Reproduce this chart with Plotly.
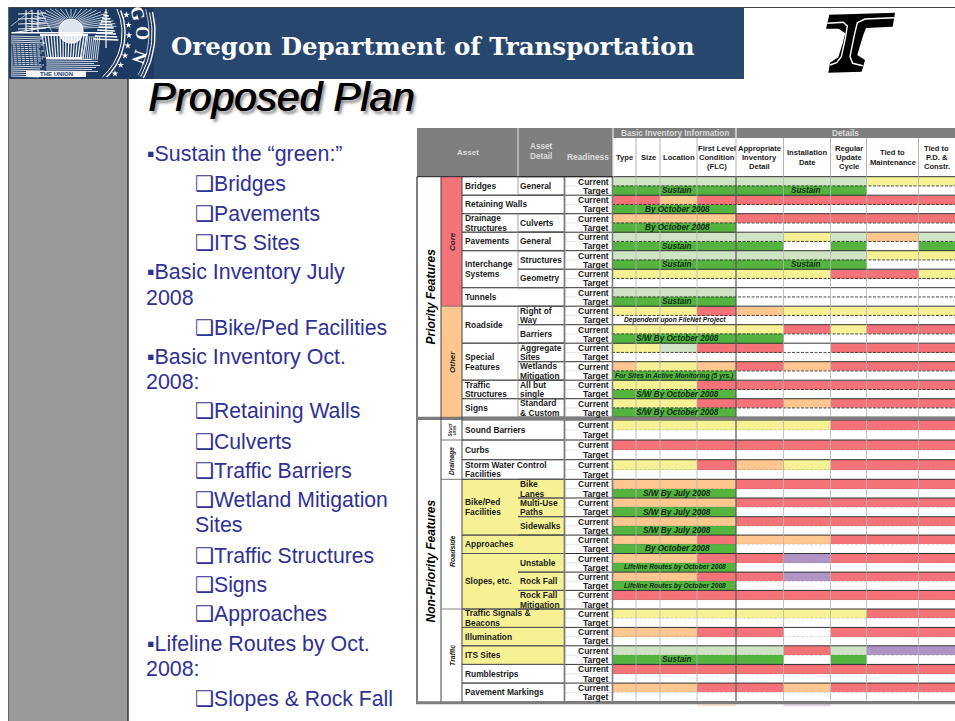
import math
import plotly.graph_objects as go

# ---------- DATA ----------
COLUMNS = ["Type", "Size", "Location", "First Level|Condition|(FLC)", "Appropriate|Inventory|Detail",
           "Installation|Date", "Regular|Update|Cycle", "Tied to|Maintenance", "Tied to|P.D. &|Constr."]
CODES = {"W": 0, "G": 1, "Y": 2, "O": 3, "R": 4, "D": 5, "P": 6}
CODE_COLORS = ["#ffffff", "#cfe4c4", "#f6f194", "#fdc78f", "#f47378", "#55b340", "#b094c6"]

PRIORITY_STATUS = [
    ("GGGGGGGYY", "DDDDDDDWW"), ("RRORRRRRR", "DDDDWWWWW"),
    ("OOOORRRRR", "DDDDWWWWW"), ("GGGGGYGOG", "DDDDDWDWD"), ("GGGGGGGYY", "DDDDDDDWW"),
    ("YYYYYYRRY", "WWWWWWWWW"), ("GGGGWWWWW", "DDDDWWWWW"), ("YYYROYYYY", "WWWWWWWWW"),
    ("YYYYYRYRR", "DDDDDWWWW"), ("YYGRRWRRR", "WWWWWWWWW"), ("OYYORORRR", "DDDDWWWWW"),
    ("YYYRRRRRR", "DDDDWWWWW"), ("YYYRRORRR", "DDDDWWWWW"),
]
NON_PRIORITY_STATUS = [
    ("YYYYYYRRR", "WWWWWWWWW"), ("RRRRRRRRR", "WWWWWWWWW"), ("YYYROYRRR", "WWWWWWWWW"),
    ("OOOORRRRR", "DDDDWWWWW"), ("OOOORRRRR", "DDDDWWWWW"), ("OOOORRRRR", "DDDDWWWWW"),
    ("OOOROORRR", "DDDDWWWWW"), ("OOORRPRRR", "DDDDWWWWW"), ("OOORRPRRR", "DDDDWWWWW"),
    ("RRRRRRRRR", "WWWWWWWWW"), ("YYYYYYYRR", "WWWWWWWWW"), ("OOORRWRRR", "WWWWWWWWW"),
    ("GGGGGRGPP", "DDDDDWDWW"), ("RRRRRRRRR", "WWWWWWWWW"), ("OOORRORRR", "WWWWWWWWW"),
]
# (row index, first column, last column, text)
PRIORITY_NOTES = [(0, 0, 3, "Sustain"), (0, 4, 6, "Sustain"), (1, 0, 3, "By October 2008"),
                  (2, 0, 3, "By October 2008"), (3, 0, 3, "Sustain"), (4, 0, 3, "Sustain"),
                  (4, 4, 6, "Sustain"), (6, 0, 3, "Sustain"), (7, 0, 3, "Dependent upon FileNet Project"),
                  (8, 0, 3, "S/W By October 2008"), (10, 0, 3, "For Sites in Active Monitoring (5 yrs.)"),
                  (11, 0, 3, "S/W By October 2008"), (12, 0, 3, "S/W By October 2008")]
NON_PRIORITY_NOTES = [(3, 0, 3, "S/W By July 2008"), (4, 0, 3, "S/W By July 2008"), (5, 0, 3, "S/W By July 2008"),
                      (6, 0, 3, "By October 2008"), (7, 0, 3, "Lifeline Routes by October 2008"),
                      (8, 0, 3, "Lifeline Routes by October 2008"), (12, 0, 3, "Sustain")]
# (first row, last row, text)
PRIORITY_ASSETS = [(0, 0, "Bridges"), (1, 1, "Retaining Walls"), (2, 2, "Drainage|Structures"), (3, 3, "Pavements"),
                   (4, 5, "Interchange|Systems"), (6, 6, "Tunnels"), (7, 8, "Roadside"), (9, 10, "Special|Features"),
                   (11, 11, "Traffic|Structures"), (12, 12, "Signs")]
PRIORITY_DETAILS = [(0, "General"), (2, "Culverts"), (3, "General"), (4, "Structures"), (5, "Geometry"),
                    (7, "Right of|Way"), (8, "Barriers"), (9, "Aggregate|Sites"), (10, "Wetlands|Mitigation"),
                    (11, "All but|single"), (12, "Standard|& Custom")]
NON_PRIORITY_ASSETS = [(0, 0, "Sound Barriers"), (1, 1, "Curbs"), (2, 2, "Storm Water Control|Facilities"),
                       (3, 5, "Bike/Ped|Facilities"), (6, 6, "Approaches"), (7, 9, "Slopes, etc."),
                       (10, 10, "Traffic Signals &|Beacons"), (11, 11, "Illumination"), (12, 12, "ITS Sites"),
                       (13, 13, "Rumblestrips"), (14, 14, "Pavement Markings")]
NON_PRIORITY_DETAILS = [(3, "Bike|Lanes"), (4, "Multi-Use|Paths"), (5, "Sidewalks"), (7, "Unstable"),
                        (8, "Rock Fall"), (9, "Rock Fall|Mitigation")]
BULLETS = [("b", "Sustain the “green:”"), ("c", "Bridges"), ("c", "Pavements"), ("c", "ITS Sites"),
           ("b", "Basic Inventory July"), ("t", "2008"), ("c", "Bike/Ped Facilities"),
           ("b", "Basic Inventory Oct."), ("t", "2008:"), ("c", "Retaining Walls"), ("c", "Culverts"),
           ("c", "Traffic Barriers"), ("c", "Wetland Mitigation"), ("s", "Sites"), ("c", "Traffic Structures"),
           ("c", "Signs"), ("c", "Approaches"), ("b", "Lifeline Routes by Oct."), ("t", "2008:"),
           ("c", "Slopes & Rock Fall")]

# ---------- LAYOUT ----------
W, H = 955, 721
SANS = "Liberation Sans, Arial, sans-serif"
COL_WIDTHS = [23, 24, 37, 39, 47.5, 47, 36, 52, 36.5]
COL_X0 = 613
XE = [COL_X0]
for w in COL_WIDTHS:
    XE.append(XE[-1] + w)
P_TOP, P_H = 176.7, 18.5
NP_HEIGHTS = [20, 19.7, 19.6, 18.7, 18.7, 18.4, 18.4, 18.6, 18.3, 18.6, 18.4, 18.4, 18.6, 18.7, 18.7]
NP_TOP = 420.0
PE = [P_TOP + i * P_H for i in range(len(PRIORITY_STATUS) + 1)]
NE = [NP_TOP]
for h in NP_HEIGHTS:
    NE.append(NE[-1] + h)
BOT = NE[-1]
GRAY = "#7f7f7f"

def halves(edges):
    out = []
    for a, b in zip(edges, edges[1:]):
        out += [a, (a + b) / 2]
    return out + [edges[-1]]

def matrix(status):
    z = []
    for cur, tgt in status:
        z.append([CODES[c] for c in cur])
        z.append([CODES[c] for c in tgt])
    return z

shapes, ann = [], []
def rect(x0, y0, x1, y1, color, layer="below"):
    shapes.append(dict(type="rect", x0=x0, y0=y0, x1=x1, y1=y1, fillcolor=color, line_width=0, layer=layer,
                       xref="x", yref="y"))
def line(x0, y0, x1, y1, color="#333333", width=1, dash="solid", layer="above"):
    shapes.append(dict(type="line", x0=x0, y0=y0, x1=x1, y1=y1, line=dict(color=color, width=width, dash=dash),
                       layer=layer, xref="x", yref="y"))
def text(x, y, s, size=8.5, color="#111111", anchor="left", bold=False, italic=False, family=SANS, angle=0, shadow=None):
    f = dict(family=family, size=size, color=color, weight="bold" if bold else "normal",
             style="italic" if italic else "normal")
    if shadow:
        f["shadow"] = shadow
    ann.append(dict(x=x, y=y, xref="x", yref="y", text=s, showarrow=False, xanchor=anchor, yanchor="middle",
                    font=f, textangle=angle, borderpad=0, borderwidth=0))
def lines(x, yc, s, step=9.7, **kw):
    parts = s.split("|")
    for i, p in enumerate(parts):
        text(x, yc + (i - (len(parts) - 1) / 2) * step, p, **kw)

fig = go.Figure()
n = len(CODE_COLORS)
colorscale = []
for i, c in enumerate(CODE_COLORS):
    colorscale += [[i / n, c], [(i + 1) / n, c]]
for st, edges in ((PRIORITY_STATUS, PE), (NON_PRIORITY_STATUS, NE)):
    fig.add_trace(go.Heatmap(z=matrix(st), x=XE, y=halves(edges), zmin=-0.5, zmax=n - 0.5,
                             colorscale=colorscale, showscale=False, hoverinfo="skip", zsmooth=False))

# ---------- slide frame ----------
rect(9, 8, 744, 79, "#27476f")
rect(9, 8, 154, 79, "#1d3a63")
rect(9, 79, 128, H, "#999999")
line(8, 7.5, W, 7.5, "#444444", 1.2)
line(8.5, 7, 8.5, H, "#666666", 1)
line(128, 79, 128, H, "#3f3f3f", 1.6)
text(171, 46, "Oregon Department of Transportation", size=24.5, color="#ffffff", bold=True,
     family="DejaVu Serif, Liberation Serif, serif")

# seal
def arc(r, a0, a1, color="#ffffff", width=1):
    xs, ys = [], []
    for k in range(61):
        a = math.radians(a0 + (a1 - a0) * k / 60)
        x, y = 63 + r * math.cos(a), 33 + r * math.sin(a)
        if 8.5 <= y <= 78.5 and x >= 9.5:
            xs.append(x); ys.append(y)
    fig.add_trace(go.Scatter(x=xs, y=ys, mode="lines", line=dict(color=color, width=width), hoverinfo="skip"))
for r, wd in ((92, 1.4), (89, 1), (86, .7), (62, 1.4), (59, 1)):
    arc(r, -80, 80, width=wd)
for k in range(-60, 61, 5):
    a = math.radians(k * 1.35 - 90)
    line(71 + 12 * math.cos(a), 30 + 12 * math.sin(a), 71 + 46 * math.cos(a),
         max(9, 30 + 24 * math.sin(a)), "#e6ecf4", .8)
shapes.append(dict(type="circle", x0=59, y0=19, x1=83, y1=43, line=dict(color="#ffffff", width=1.2),
                   fillcolor="#dde5ee", layer="below", xref="x", yref="y"))
rect(12, 32, 113, 33.5, "#ffffff")
fig.add_trace(go.Scatter(x=[63 + 66 * math.cos(math.radians(a)) for a in range(-34, 40, 9)],
                         y=[33 + 66 * math.sin(math.radians(a)) for a in range(-34, 40, 9)],
                         mode="markers", marker=dict(symbol="star", size=5, color="#ffffff"), hoverinfo="skip"))
for x in (26, 32, 38):
    line(x, 10, x, 33, "#ffffff", 1.1)
for y in (14, 19, 24, 29):
    line(18, y, 46, y - 1, "#ffffff", .9)
line(11, 33, 50, 27, "#ffffff", 1.2)
line(11, 26, 32, 10, "#dfe7f0", .7)
line(40, 10, 52, 32, "#dfe7f0", .7)
for y in range(12, 42, 3):
    line(106 - (y - 8) * .4, y, 106 + (y - 8) * .4, y + 1, "#ffffff", 1.3)
line(106, 9, 106, 48, "#ffffff", 1.2)
for x in range(42, 88, 3):
    line(x, 35, x + (64 - x) * .18, 58, "#f2f5f9", 1.2)
line(40, 35, 88, 35, "#ffffff", 2)
line(46, 58, 82, 58, "#ffffff", 2)
for y in range(36, 78, 2):
    line(11, y, 45 - (y % 7), y + 1, "#eef2f7", .9)
for y in range(59, 72, 2):
    line(46, y, 100 - (y % 5) * 2, y + .5, "#e6ecf4", .9)
for x in range(12, 46, 4):
    line(x, 44, x + 2, 66, "#1d3a63", .8)
for x in range(84, 102, 2):
    line(x, 36, x - 3, 60, "#e9eef5", .9)
rect(26, 71, 86, 77, "#f4f6f9")
text(56, 74, "THE UNION", size=6, color="#27476f", anchor="center", bold=True)
for letter, lx, ly, rot in (("G", 137.5, 13, 75), ("O", 142, 33, 90), ("N", 139.5, 57, 108)):
    text(lx, ly, letter, size=18, color="#ffffff", anchor="center", bold=True, angle=rot,
         family="Liberation Serif, serif")

# logo
def P(seq):
    return "M" + " L".join(f"{740 + a / 3:.1f},{b / 3:.1f}" for a, b in seq)
SIL = [(268, 44), (465, 38), (458, 80), (378, 84), (368, 110), (352, 165), (375, 180), (365, 215), (265, 218),
       (270, 188), (295, 172), (308, 130), (316, 100), (296, 86), (258, 86)]
shapes.append(dict(type="path", path=P(SIL) + " Z", fillcolor="#000000", line_width=0, xref="x", yref="y", layer="below"))
for seq in ([(462, 53), (375, 57), (352, 68), (342, 110), (330, 170), (338, 190), (368, 197)],
            [(262, 70), (310, 67), (322, 78), (316, 115), (304, 170), (290, 188), (270, 195)]):
    shapes.append(dict(type="path", path=P(seq), line=dict(color="#ffffff", width=1.4), xref="x", yref="y", layer="below"))

# title
text(148, 97, "Proposed Plan", size=40.6, color="#000000", italic=True, shadow="3px 3px 3px #8a8a8a")
text(148.7, 97, "Proposed Plan", size=40.6, color="#000000", italic=True)

# bullets
BULLET_Y = [154, 184, 213, 242, 272, 298, 327, 357, 382, 411, 441, 470, 500, 525, 555, 585, 614, 644, 669, 699]
BLUE = "#2f3193"
for (kind, s), y in zip(BULLETS, BULLET_Y):
    if kind == "b":
        text(147, y, "▪" + s, size=21.4, color=BLUE)
    elif kind == "t":
        text(146, y, s, size=21.4, color=BLUE)
    elif kind == "c":
        text(195, y, "<b>❑</b>" + s, size=21.2, color=BLUE, family="Liberation Sans, DejaVu Sans, sans-serif")
    else:
        text(195, y, s, size=21.4, color=BLUE)

# ---------- table background ----------
LEFT, C1, C2, C3, C4, C5 = 417, 441, 462, 518, 564, 612
rect(LEFT, 128, W, 138, GRAY)
rect(LEFT, 138, C5 + 1, P_TOP, GRAY)
rect(C1, P_TOP, C2, PE[7], "#f47378")
rect(C1, PE[7], C2, PE[13], "#fdc78f")
rect(C2, NE[3], C4, NE[13], "#f6f194")
rect(C4, P_TOP, C5, BOT, "#ffffff")
rect(XE[3], BOT + 2.5, XE[4], BOT + 4.5, "#fde7cf")
rect(XE[5], BOT + 2.5, XE[6], BOT + 4.5, "#ddd0e6")

# status grid
for i, (edges, assets, details) in enumerate(((PE, PRIORITY_ASSETS, PRIORITY_DETAILS),
                                             (NE, NON_PRIORITY_ASSETS, NON_PRIORITY_DETAILS))):
    for a, b in zip(edges, edges[1:]):
        m = (a + b) / 2
        line(C5, m, W, m, "#333333" if i == 0 else "rgba(110,110,110,0.3)", .9, "3px,1.5px")
        line(C4 + 2, m, C5, m, "#e5e5e5", 1)
    for e in edges:
        line(C4, e, W, e, "#333333", 1)
    for a, b, _ in assets:
        line(C2, edges[a], C4, edges[a], "#555555", 1)
        line(C2, edges[b + 1], C4, edges[b + 1], "#555555", 1)
    for r, _ in details:
        line(C3, edges[r], C4, edges[r], "#555555", 1)
        line(C3, edges[r + 1], C4, edges[r + 1], "#555555", 1)
        if i == 0:
            line(C3, edges[r], C3, edges[r + 1], "#8a8a8a", .8)
for k, x in enumerate(XE[1:-1], 1):
    line(x, P_TOP, x, BOT, "#5a5a5a" if k == 4 else "#b5b5b5", 1.2 if k == 4 else .8)
    line(x, 138, x, P_TOP, "#a0a0a0", .8)
line(736, 128, 736, 138, "#e6e6e6", 1.4)
line(613, 128, 613, 177, "#e6e6e6", 1.2)
line(518, 128, 518, 177, "#cfcfcf", 1.2)
line(C5 + .5, P_TOP, C5 + .5, BOT, "#7d7d7d", 1.6)
line(C4 + .5, P_TOP, C4 + .5, BOT, "#7d7d7d", 1.8)
line(LEFT, P_TOP, LEFT, BOT, "#7d7d7d", 2)
line(LEFT - 1, BOT + 1, W, BOT + 1, "#7d7d7d", 3)
line(LEFT - 1, 418.4, W, 418.4, "#7d7d7d", 3.2)
line(LEFT, P_TOP, 613, P_TOP, "#222222", 1)
line(C1, P_TOP, C1, BOT, "#444444", 1)
line(C2, P_TOP, C2, BOT, "#444444", 1)
line(C1, NE[1], C2, NE[1], "#777777", 1)
line(C1, NE[3], C2, NE[3], "#777777", 1)
line(C1, NE[10], C2, NE[10], "#999999", 1.2)
line(C1, PE[7], C2, PE[7], "#666666", .8)

# ---------- table text ----------
HDR = "#dcdcdc"
text(674.5, 133, "Basic Inventory Information", size=8.2, color=HDR, anchor="center", bold=True)
text(845, 133, "Details", size=8.2, color=HDR, anchor="center", bold=True)
text(468, 152, "Asset", size=8, color=HDR, anchor="center", bold=True)
lines(541, 151, "Asset|Detail", size=8.2, color=HDR, anchor="center", bold=True, step=10)
text(588, 157, "Readiness", size=8.4, color=HDR, anchor="center", bold=True)
for c, name in enumerate(COLUMNS):
    cx = (XE[c] + XE[c + 1]) / 2
    lines(cx, 157.5, name, size=7.6, color="#222222", anchor="center", bold=True, step=9.4)

for edges, assets, details, notes, n_rows in (
        (PE, PRIORITY_ASSETS, PRIORITY_DETAILS, PRIORITY_NOTES, len(PRIORITY_STATUS)),
        (NE, NON_PRIORITY_ASSETS, NON_PRIORITY_DETAILS, NON_PRIORITY_NOTES, len(NON_PRIORITY_STATUS))):
    for r in range(n_rows):
        text(C5 - 3, edges[r] + (edges[r + 1] - edges[r]) * .27, "Current", size=8.5, color="#1a1a1a", anchor="right", bold=True)
        text(C5 - 3, edges[r] + (edges[r + 1] - edges[r]) * .76, "Target", size=8.5, color="#1a1a1a", anchor="right", bold=True)
    for a, b, s in assets:
        lines(C2 + 2.5, (edges[a] + edges[b + 1]) / 2, s, bold=True, size=8.4, color="#1c1c1c")
    for r, s in details:
        lines(C3 + 1.5, (edges[r] + edges[r + 1]) / 2, s, bold=True, size=8.4, color="#1c1c1c")
    for r, c0, c1, s in notes:
        y = edges[r] + (edges[r + 1] - edges[r]) * .75
        small = len(s) > 26
        col = "#111111" if "Dependent" in s else "#0f2f12"
        cx = (XE[c0] + XE[c1 + 1]) / 2 + (0 if small else (5 if c0 == 4 else 2.5))
        text(cx, y, s, size=6.7 if small else 8.2, color=col, anchor="center", bold=True, italic=True)

# vertical labels
text(430.5, 297, "Priority Features", size=12, color="#000000", anchor="center", bold=True, italic=True, angle=-90)
text(430.5, 561, "Non-Priority Features", size=12, color="#000000", anchor="center", bold=True, italic=True, angle=-90)
text(452, 242, "Core", size=8, color="#222222", anchor="center", bold=True, italic=True, angle=-90)
text(452, 362, "Other", size=8, color="#222222", anchor="center", bold=True, italic=True, angle=-90)
text(449.5, 430, "Struct", size=4.5, color="#333333", anchor="center", bold=True, italic=True, angle=-90)
text(454, 430, "ures", size=4.5, color="#333333", anchor="center", bold=True, italic=True, angle=-90)
text(452, 461, "Drainage", size=6.5, color="#222222", anchor="center", bold=True, italic=True, angle=-90)
text(452, 551, "Roadside", size=7, color="#222222", anchor="center", bold=True, italic=True, angle=-90)
text(452, 656, "Traffic", size=7, color="#222222", anchor="center", bold=True, italic=True, angle=-90)

fig.update_layout(
    width=W, height=H, autosize=False, margin=dict(l=0, r=0, t=0, b=0),
    paper_bgcolor="#ffffff", plot_bgcolor="#ffffff", showlegend=False,
    xaxis=dict(range=[0, W], visible=False, fixedrange=True),
    yaxis=dict(range=[H, 0], visible=False, fixedrange=True),
    shapes=shapes, annotations=ann,
)
fig.write_html("out.html", config=dict(displayModeBar=False),
               post_script="document.body.style.margin='0';document.documentElement.style.overflow='hidden';")
